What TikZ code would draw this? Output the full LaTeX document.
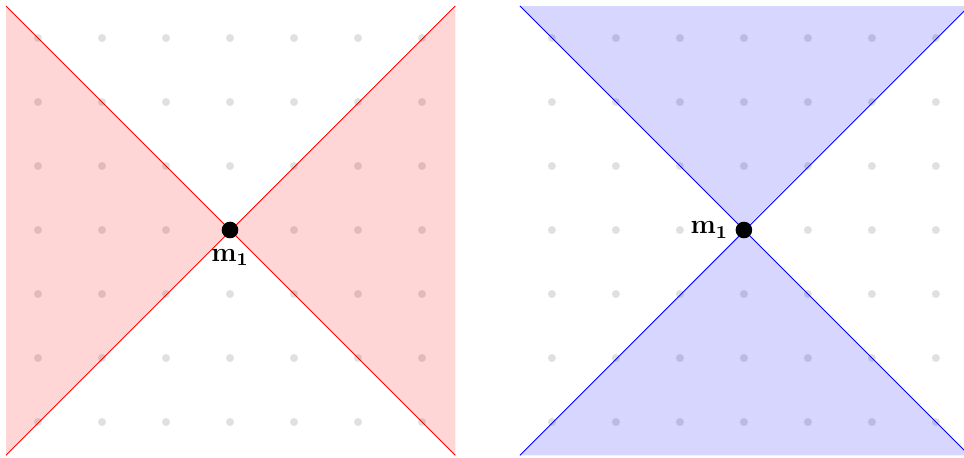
\documentclass[tikz,border=0pt]{standalone}
\usetikzlibrary{calc}
\begin{document}
\begin{tikzpicture}[x=1cm,y=1cm,
  griddot/.style={circle,fill=black,fill opacity=0.12,inner sep=0pt,minimum size=0.125cm},
  bigdot/.style={circle,fill=black,inner sep=0pt,minimum size=0.26cm},
  redfill/.style={fill=red!16},
  bluefill/.style={fill=blue!16},
  lbl/.style={font=\large,inner sep=1pt}]
\useasboundingbox (-3.594,-3.547) rectangle (11.469,3.594);
% ---------- left panel ----------
\coordinate (LTL) at (-3.5,3.5);
\coordinate (LTR) at (3.52,3.5);
\coordinate (LBL) at (-3.5,-3.52);
\coordinate (LBR) at (3.52,-3.52);
\coordinate (LC) at (0,0);
\fill[redfill] (LTL) -- (LC) -- (LBL) -- cycle;
\fill[redfill] (LTR) -- (LC) -- (LBR) -- cycle;
\draw[red] (LTL) -- (LBR);
\draw[red] (LBL) -- (LTR);
\foreach \i in {-3,...,3}
  \foreach \j in {-3,...,3}
    \node[griddot] at (\i,\j) {};
\node[bigdot] (m1a) at (LC) {};
\node[lbl,anchor=north] (la) at ([yshift=-3.5pt]m1a.south) {$\mathbf{m_1}$};
% ---------- right panel ----------
\begin{scope}[xshift=8.03cm]
\coordinate (RTL) at (-3.5,3.5);
\coordinate (RTR) at (3.52,3.5);
\coordinate (RBL) at (-3.5,-3.52);
\coordinate (RBR) at (3.52,-3.52);
\coordinate (RC) at (0,0);
\fill[bluefill] (RTL) -- (RC) -- (RTR) -- cycle;
\fill[bluefill] (RBL) -- (RC) -- (RBR) -- cycle;
\draw[blue] (RTL) -- (RBR);
\draw[blue] (RBL) -- (RTR);
\foreach \i in {-3,...,3}
  \foreach \j in {-3,...,3}
    \node[griddot] at (\i,\j) {};
\node[bigdot] (m1b) at (RC) {};
\node[lbl,anchor=east] (lb) at ([xshift=-2pt]m1b.west) {$\mathbf{m_1}$};
\end{scope}
\end{tikzpicture}
\end{document}
